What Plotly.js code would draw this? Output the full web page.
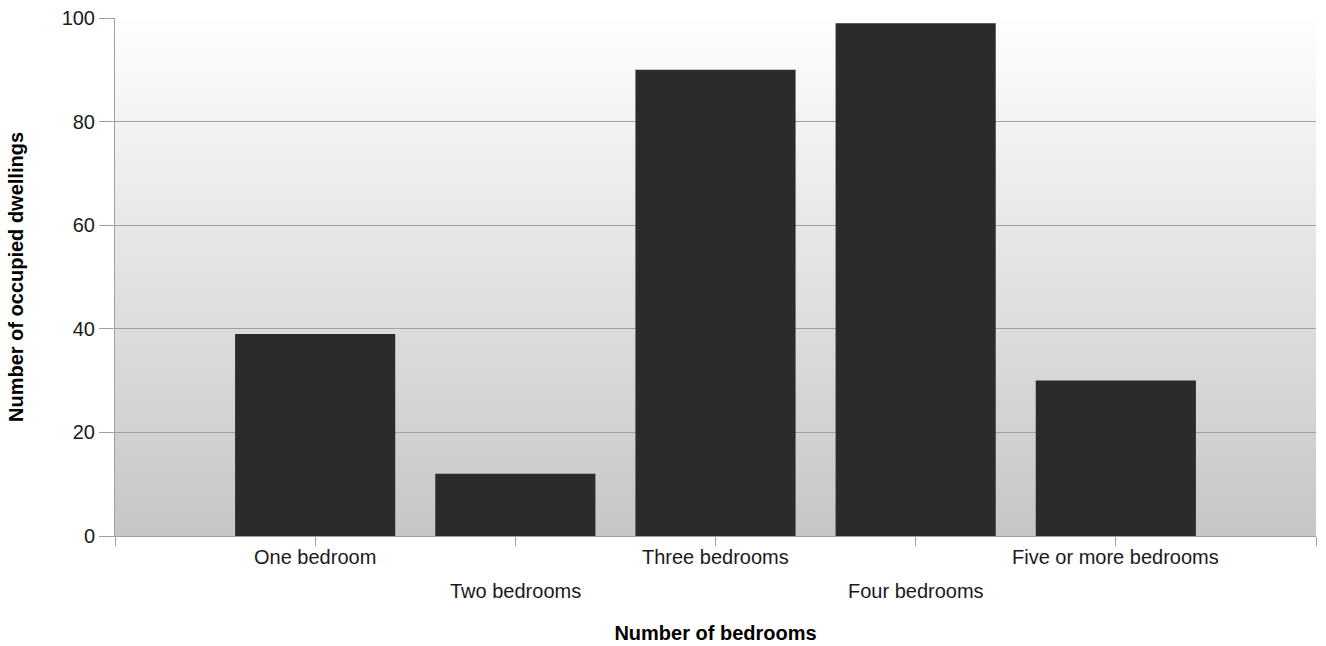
<!DOCTYPE html>
<html>
<head>
<meta charset="utf-8">
<script src="https://cdn.plot.ly/plotly-3.0.1.min.js"></script>
<style>html,body{margin:0;padding:0;background:#fff;}#chart{width:1326px;height:646px;}</style>
</head>
<body>
<div id="chart"></div>
<script>
const categories = ["One bedroom", "Two bedrooms", "Three bedrooms", "Four bedrooms", "Five or more bedrooms"];
const dwellings = [39, 12, 90, 99, 30];
const yTicks = [0, 20, 40, 60, 80, 100];
const xTitle = "Number of bedrooms";
const yTitle = "Number of occupied dwellings";

const idx = categories.map((c, i) => i);
const tickvals = [-1].concat(idx, [categories.length]);

const gradSvg = '<svg xmlns="http://www.w3.org/2000/svg" width="10" height="100" preserveAspectRatio="none">' +
  '<defs><linearGradient id="g" x1="0" y1="0" x2="0" y2="1">' +
  '<stop offset="0" stop-color="#fefefe"/><stop offset="1" stop-color="#c6c6c6"/></linearGradient></defs>' +
  '<rect width="10" height="100" fill="url(#g)"/></svg>';
const gradUri = "data:image/svg+xml;base64," + btoa(gradSvg);

const font = "Liberation Sans, Arial, sans-serif";
const fs = 20;

const trace = {
  type: "bar",
  x: idx,
  y: dwellings,
  marker: {color: "#2b2b2b", line: {width: 0}},
  width: 0.8,
  hoverinfo: "x+y"
};

// category labels, staggered on two rows
const annotations = categories.map((c, i) => ({
  x: i, xref: "x", y: 0, yref: "paper",
  text: c, showarrow: false, yanchor: "middle", yshift: (i % 2 === 0 ? -21 : -55),
  font: {family: font, size: fs, color: "#1a1a1a"}
}));

const layout = {
  width: 1326, height: 646,
  margin: {l: 115, r: 10, t: 18, b: 110},
  paper_bgcolor: "#ffffff",
  plot_bgcolor: "rgba(0,0,0,0)",
  showlegend: false,
  bargap: 0.2,
  images: [{
    source: gradUri, xref: "paper", yref: "paper", x: 0, y: 1,
    sizex: 1, sizey: 1, sizing: "stretch", layer: "below", xanchor: "left", yanchor: "top"
  }],
  xaxis: {
    range: [-1, categories.length],
    tickmode: "array", tickvals: tickvals,
    showticklabels: false,
    ticks: "outside", ticklen: 9, tickcolor: "#a0a0a0", tickwidth: 1,
    showline: true, linecolor: "#a0a0a0", linewidth: 1,
    showgrid: false, zeroline: false,
    title: {text: "<b>" + xTitle + "</b>", font: {family: font, size: fs, color: "#000"}, standoff: 80},
    fixedrange: true
  },
  yaxis: {
    range: [0, 100],
    tickmode: "array", tickvals: yTicks,
    ticks: "outside", ticklen: 15, tickcolor: "#a0a0a0", tickwidth: 1,
    showline: true, linecolor: "#a0a0a0", linewidth: 1,
    showgrid: true, gridcolor: "#a0a0a0", gridwidth: 1,
    zeroline: false,
    tickfont: {family: font, size: fs, color: "#1a1a1a"},
    title: {text: "<b>" + yTitle + "</b>", font: {family: font, size: fs, color: "#000"}, standoff: 32},
    fixedrange: true
  },
  annotations: annotations
};

Plotly.newPlot("chart", [trace], layout, {displayModeBar: false, staticPlot: true});
</script>
</body>
</html>
